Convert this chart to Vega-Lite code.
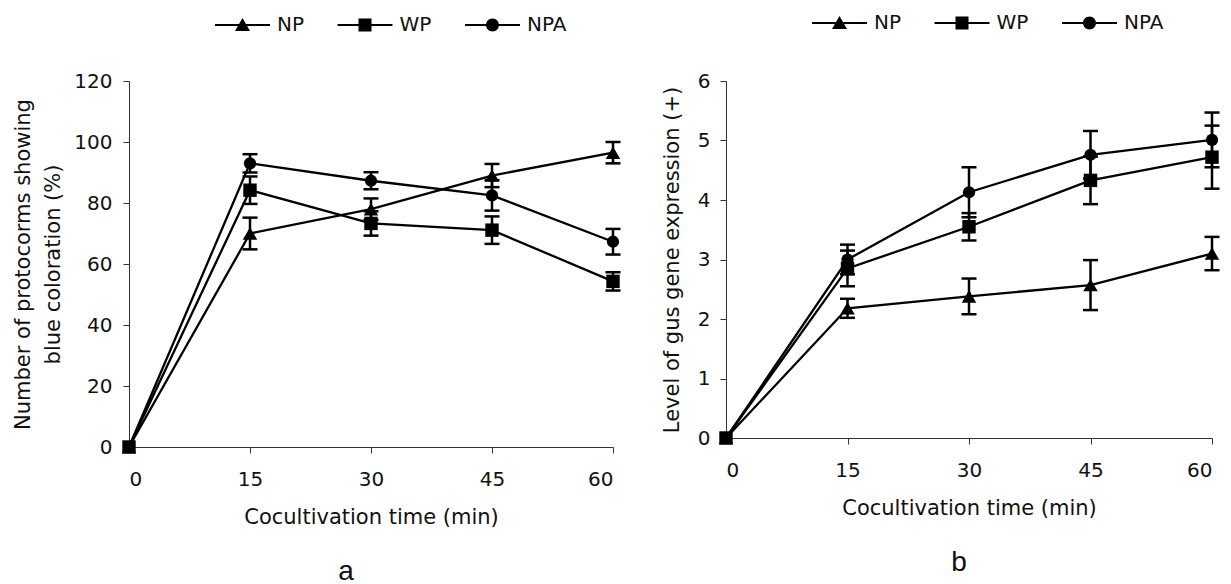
{
  "$schema": "https://vega.github.io/schema/vega-lite/v6.json",
  "background": "white",
  "padding": {"left": 12, "top": 12, "right": 0, "bottom": 0},
  "spacing": 113,
  "bounds": "flush",
  "config": {
    "view": {"stroke": null},
    "font": "DejaVu Sans",
    "axis": {
      "grid": false,
      "domainColor": "#333333",
      "domainWidth": 1,
      "tickColor": "#333333",
      "tickWidth": 1,
      "tickSize": 6,
      "labelFont": "DejaVu Sans",
      "labelFontSize": 20,
      "labelColor": "#111111",
      "titleFont": "DejaVu Sans",
      "titleFontSize": 21,
      "titleFontWeight": "normal",
      "titleColor": "#111111"
    },
    "legend": {
      "labelFont": "DejaVu Sans",
      "labelFontSize": 20,
      "labelColor": "#111111",
      "padding": 0
    },
    "title": {"font": "Liberation Sans", "fontSize": 28, "fontWeight": "normal", "color": "#111111"}
  },
  "resolve": {"scale": {"shape": "independent", "size": "independent"}, "legend": {"shape": "independent"}},
  "datasets": {
    "a": [
      {"time": 0, "series": "NP", "mean": 0, "lo": null, "hi": null},
      {"time": 15, "series": "NP", "mean": 70, "lo": 64.8, "hi": 75.2},
      {"time": 30, "series": "NP", "mean": 78, "lo": 74.5, "hi": 81.5},
      {"time": 45, "series": "NP", "mean": 89, "lo": 85.2, "hi": 92.8},
      {"time": 60, "series": "NP", "mean": 96.5, "lo": 93, "hi": 100},
      {"time": 0, "series": "NPA", "mean": 0, "lo": null, "hi": null},
      {"time": 15, "series": "NPA", "mean": 93, "lo": 90, "hi": 96},
      {"time": 30, "series": "NPA", "mean": 87.3, "lo": 84.5, "hi": 90.1},
      {"time": 45, "series": "NPA", "mean": 82.5, "lo": 77.5, "hi": 87.5},
      {"time": 60, "series": "NPA", "mean": 67.3, "lo": 63.1, "hi": 71.5},
      {"time": 0, "series": "WP", "mean": 0, "lo": null, "hi": null},
      {"time": 15, "series": "WP", "mean": 84.2, "lo": 79.7, "hi": 88.7},
      {"time": 30, "series": "WP", "mean": 73.3, "lo": 69.3, "hi": 77.3},
      {"time": 45, "series": "WP", "mean": 71.1, "lo": 66.6, "hi": 75.6},
      {"time": 60, "series": "WP", "mean": 54.3, "lo": 51.3, "hi": 57.3}
    ],
    "b": [
      {"time": 0, "series": "NP", "mean": 0, "lo": null, "hi": null},
      {"time": 15, "series": "NP", "mean": 2.18, "lo": 2.02, "hi": 2.34},
      {"time": 30, "series": "NP", "mean": 2.38, "lo": 2.08, "hi": 2.68},
      {"time": 45, "series": "NP", "mean": 2.57, "lo": 2.15, "hi": 2.99},
      {"time": 60, "series": "NP", "mean": 3.1, "lo": 2.82, "hi": 3.38},
      {"time": 0, "series": "NPA", "mean": 0, "lo": null, "hi": null},
      {"time": 15, "series": "NPA", "mean": 3.0, "lo": 2.75, "hi": 3.25},
      {"time": 30, "series": "NPA", "mean": 4.13, "lo": 3.71, "hi": 4.55},
      {"time": 45, "series": "NPA", "mean": 4.76, "lo": 4.36, "hi": 5.16},
      {"time": 60, "series": "NPA", "mean": 5.01, "lo": 4.55, "hi": 5.47},
      {"time": 0, "series": "WP", "mean": 0, "lo": null, "hi": null},
      {"time": 15, "series": "WP", "mean": 2.85, "lo": 2.55, "hi": 3.15},
      {"time": 30, "series": "WP", "mean": 3.55, "lo": 3.32, "hi": 3.78},
      {"time": 45, "series": "WP", "mean": 4.33, "lo": 3.93, "hi": 4.73},
      {"time": 60, "series": "WP", "mean": 4.72, "lo": 4.19, "hi": 5.25}
    ]
  },
  "hconcat": [
    {
      "width": 484,
      "height": 366,
      "data": {"name": "a"},
      "title": {"text": "a", "orient": "bottom", "anchor": "middle", "dx": -25, "offset": 31},
      "encoding": {
        "x": {"field": "time", "type": "quantitative", "scale": {"domain": [0, 60], "nice": false},
              "axis": {"values": [0, 15, 30, 45, 60], "title": "Cocultivation time (min)", "labelPadding": 16, "titlePadding": 17}}
      },
      "resolve": {"scale": {"shape": "independent", "size": "independent"}, "legend": {"shape": "independent"}},
      "layer": [
        {"mark": {"type": "line", "color": "black", "strokeWidth": 2.3},
         "encoding": {"y": {"field": "mean", "type": "quantitative", "scale": {"domain": [0, 120], "nice": false},
                            "axis": {"values": [0, 20, 40, 60, 80, 100, 120], "title": ["Number of protocorms showing", "blue coloration (%)"], "titleLineHeight": 30, "labelPadding": 11, "titlePadding": 10}},
                      "detail": {"field": "series"}}},
        {"mark": {"type": "rule", "color": "black", "strokeWidth": 2.5},
         "encoding": {"y": {"field": "lo", "type": "quantitative", "axis": {"values": [0, 20, 40, 60, 80, 100, 120], "title": ["Number of protocorms showing", "blue coloration (%)"], "titleLineHeight": 30, "labelPadding": 11, "titlePadding": 10}}, "y2": {"field": "hi"}}},
        {"mark": {"type": "tick", "orient": "horizontal", "color": "black", "thickness": 2.5, "size": 15, "opacity": 1},
         "encoding": {"y": {"field": "lo", "type": "quantitative", "axis": {"values": [0, 20, 40, 60, 80, 100, 120], "title": ["Number of protocorms showing", "blue coloration (%)"], "titleLineHeight": 30, "labelPadding": 11, "titlePadding": 10}}}},
        {"mark": {"type": "tick", "orient": "horizontal", "color": "black", "thickness": 2.5, "size": 15, "opacity": 1},
         "encoding": {"y": {"field": "hi", "type": "quantitative", "axis": {"values": [0, 20, 40, 60, 80, 100, 120], "title": ["Number of protocorms showing", "blue coloration (%)"], "titleLineHeight": 30, "labelPadding": 11, "titlePadding": 10}}}},
        {"mark": {"type": "point", "filled": true, "color": "black", "opacity": 1},
         "encoding": {"y": {"field": "mean", "type": "quantitative", "axis": {"values": [0, 20, 40, 60, 80, 100, 120], "title": ["Number of protocorms showing", "blue coloration (%)"], "titleLineHeight": 30, "labelPadding": 11, "titlePadding": 10}},
                      "shape": {"field": "series", "type": "nominal", "scale": {"domain": ["NP", "WP", "NPA"], "range": ["triangle-up", "square", "circle"]}, "legend": null},
                      "size": {"field": "series", "type": "nominal", "scale": {"domain": ["NP", "WP", "NPA"], "range": [210, 150, 165]}, "legend": null}}},
        {"mark": {"type": "point", "filled": true, "color": "black", "size": 0, "opacity": 1},
         "encoding": {"y": {"field": "mean", "type": "quantitative", "axis": {"values": [0, 20, 40, 60, 80, 100, 120], "title": ["Number of protocorms showing", "blue coloration (%)"], "titleLineHeight": 30, "labelPadding": 11, "titlePadding": 10}},
                      "shape": {"field": "series", "type": "nominal",
                                "scale": {"domain": ["NP", "WP", "NPA"], "range": [
                                  "M-2.75,-0.1H2.75V0.1H-2.75ZM0,-0.7L0.75,0.6L-0.75,0.6Z",
                                  "M-2.75,-0.1H2.75V0.1H-2.75ZM-0.65,-0.65H0.65V0.65H-0.65Z",
                                  "M-2.75,-0.1H2.75V0.1H-2.75ZM-0.65,0A0.65,0.65,0,1,1,0.65,0A0.65,0.65,0,1,1,-0.65,0Z"]},
                                "legend": {"orient": "none", "legendX": 102.5, "legendY": -67, "direction": "horizontal", "title": null,
                                           "symbolSize": 400, "symbolFillColor": "black",
                                           "labelOffset": 23.5, "columnPadding": 29.5,
                                           "encode": {"symbols": {"fill": {"value": "black"}, "fillOpacity": {"value": 1}, "opacity": {"value": 1}}}}}}}
      ]
    },
    {
      "width": 486,
      "height": 357,
      "data": {"name": "b"},
      "title": {"text": "b", "orient": "bottom", "anchor": "middle", "dx": -10, "offset": 31},
      "encoding": {
        "x": {"field": "time", "type": "quantitative", "scale": {"domain": [0, 60], "nice": false},
              "axis": {"values": [0, 15, 30, 45, 60], "title": "Cocultivation time (min)", "labelPadding": 16, "titlePadding": 17}}
      },
      "resolve": {"scale": {"shape": "independent", "size": "independent"}, "legend": {"shape": "independent"}},
      "layer": [
        {"mark": {"type": "line", "color": "black", "strokeWidth": 2.3},
         "encoding": {"y": {"field": "mean", "type": "quantitative", "scale": {"domain": [0, 6], "nice": false},
                            "axis": {"values": [0, 1, 2, 3, 4, 5, 6], "title": "Level of gus gene expression (+)", "labelPadding": 10, "titlePadding": 15}},
                      "detail": {"field": "series"}}},
        {"mark": {"type": "rule", "color": "black", "strokeWidth": 2.5},
         "encoding": {"y": {"field": "lo", "type": "quantitative", "axis": {"values": [0, 1, 2, 3, 4, 5, 6], "title": "Level of gus gene expression (+)", "labelPadding": 10, "titlePadding": 15}}, "y2": {"field": "hi"}}},
        {"mark": {"type": "tick", "orient": "horizontal", "color": "black", "thickness": 2.5, "size": 15, "opacity": 1},
         "encoding": {"y": {"field": "lo", "type": "quantitative", "axis": {"values": [0, 1, 2, 3, 4, 5, 6], "title": "Level of gus gene expression (+)", "labelPadding": 10, "titlePadding": 15}}}},
        {"mark": {"type": "tick", "orient": "horizontal", "color": "black", "thickness": 2.5, "size": 15, "opacity": 1},
         "encoding": {"y": {"field": "hi", "type": "quantitative", "axis": {"values": [0, 1, 2, 3, 4, 5, 6], "title": "Level of gus gene expression (+)", "labelPadding": 10, "titlePadding": 15}}}},
        {"mark": {"type": "point", "filled": true, "color": "black", "opacity": 1},
         "encoding": {"y": {"field": "mean", "type": "quantitative", "axis": {"values": [0, 1, 2, 3, 4, 5, 6], "title": "Level of gus gene expression (+)", "labelPadding": 10, "titlePadding": 15}},
                      "shape": {"field": "series", "type": "nominal", "scale": {"domain": ["NP", "WP", "NPA"], "range": ["triangle-up", "square", "circle"]}, "legend": null},
                      "size": {"field": "series", "type": "nominal", "scale": {"domain": ["NP", "WP", "NPA"], "range": [210, 150, 165]}, "legend": null}}},
        {"mark": {"type": "point", "filled": true, "color": "black", "size": 0, "opacity": 1},
         "encoding": {"y": {"field": "mean", "type": "quantitative", "axis": {"values": [0, 1, 2, 3, 4, 5, 6], "title": "Level of gus gene expression (+)", "labelPadding": 10, "titlePadding": 15}},
                      "shape": {"field": "series", "type": "nominal",
                                "scale": {"domain": ["NP", "WP", "NPA"], "range": [
                                  "M-2.75,-0.1H2.75V0.1H-2.75ZM0,-0.7L0.75,0.6L-0.75,0.6Z",
                                  "M-2.75,-0.1H2.75V0.1H-2.75ZM-0.65,-0.65H0.65V0.65H-0.65Z",
                                  "M-2.75,-0.1H2.75V0.1H-2.75ZM-0.65,0A0.65,0.65,0,1,1,0.65,0A0.65,0.65,0,1,1,-0.65,0Z"]},
                                "legend": {"orient": "none", "legendX": 102.5, "legendY": -69, "direction": "horizontal", "title": null,
                                           "symbolSize": 400, "symbolFillColor": "black",
                                           "labelOffset": 23.5, "columnPadding": 29.5,
                                           "encode": {"symbols": {"fill": {"value": "black"}, "fillOpacity": {"value": 1}, "opacity": {"value": 1}}}}}}}
      ]
    }
  ]
}
